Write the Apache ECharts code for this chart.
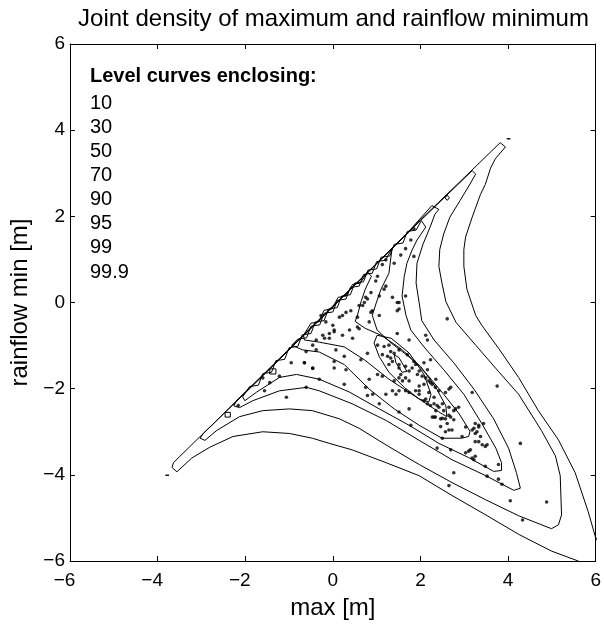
<!DOCTYPE html>
<html><head><meta charset="utf-8">
<script src="https://cdn.jsdelivr.net/npm/echarts@6/dist/echarts.min.js"></script>
<style>html,body{margin:0;padding:0;background:#fff}#chart{width:604px;height:625px}</style>
</head><body><div id="chart"></div>
<script>
const titleText = 'Joint density of maximum and rainflow minimum';
const xName = 'max [m]';
const yName = 'rainflow min [m]';
const legendTitle = 'Level curves enclosing:';
const levels = ['10', '30', '50', '70', '90', '95', '99', '99.9'];

// level curves, [max, min] pairs
const c10 = [[1.40,-1.21],[1.51,-1.28],[1.69,-1.60],[1.58,-1.62],[1.44,-1.40],[1.40,-1.21]];
const c30 = [[1.01,-0.76],[1.33,-0.83],[1.74,-1.17],[2.08,-1.67],[2.24,-2.13],[2.19,-2.31],[1.97,-2.24],[1.63,-1.97],[1.28,-1.62],[1.06,-1.26],[0.94,-0.94],[1.01,-0.76]];
const c50 = [[-0.67,-0.76],[-0.65,-0.87],[-0.31,-0.92],[0.26,-1.03],[0.72,-1.33],[1.28,-1.78],[1.97,-2.24],[2.42,-2.54],[2.60,-2.65],[2.58,-2.40],[2.35,-1.97],[2.01,-1.49],[1.56,-1.08],[1.10,-0.76],[0.74,-0.60],[0.51,-0.44],[0.56,-0.30],[0.65,0.04],[0.74,0.31],[0.88,0.61],[0.80,0.70],[0.62,0.45],[0.45,0.42],[0.30,0.15],[0.12,0.12],[-0.02,-0.15],[-0.20,-0.18],[-0.32,-0.45],[-0.50,-0.48],[-0.67,-0.76]];
const c70 = [[1.35,1.25],[1.28,0.68],[1.10,0.31],[0.99,-0.01],[0.90,-0.30],[1.01,-0.64],[1.33,-0.94],[1.74,-1.26],[2.15,-1.67],[2.53,-2.13],[2.88,-2.58],[3.13,-2.99],[3.10,-3.11],[2.94,-3.15],[2.49,-3.15],[1.97,-2.85],[1.40,-2.47],[0.83,-2.01],[0.26,-1.44],[-0.31,-1.15],[-0.69,-1.10],[-0.94,-0.99],[-0.80,-0.85],[-0.60,-0.82],[-0.50,-0.55],[-0.30,-0.52],[-0.20,-0.25],[0.00,-0.22],[0.10,0.05],[0.30,0.08],[0.40,0.35],[0.60,0.38],[0.70,0.65],[0.90,0.68],[1.00,0.95],[1.20,0.98],[1.35,1.25]];
const c90 = [[2.02,1.90],[2.12,1.75],[1.92,1.45],[1.81,1.22],[1.69,0.91],[1.63,0.61],[1.58,0.15],[1.67,-0.30],[1.78,-0.64],[2.08,-1.03],[2.53,-1.56],[2.99,-2.13],[3.40,-2.81],[3.72,-3.38],[3.85,-3.72],[3.85,-3.90],[3.67,-3.92],[3.10,-3.60],[2.42,-3.27],[1.74,-2.85],[1.06,-2.47],[0.38,-2.08],[-0.31,-1.78],[-0.83,-1.67],[-1.22,-1.74],[-1.74,-2.08],[-2.01,-2.28],[-2.06,-2.19],[-1.90,-1.95],[-1.70,-1.92],[-1.60,-1.65],[-1.40,-1.62],[-1.30,-1.35],[-1.10,-1.32],[-1.00,-1.05],[-0.80,-1.02],[-0.70,-0.75],[-0.50,-0.72],[-0.40,-0.45],[-0.20,-0.42],[-0.10,-0.15],[0.10,-0.12],[0.20,0.15],[0.40,0.18],[0.50,0.45],[0.70,0.48],[0.80,0.75],[1.00,0.78],[1.10,1.05],[1.30,1.08],[1.40,1.35],[1.60,1.38],[1.70,1.65],[1.90,1.68],[2.02,1.90]];
const c95 = [[2.26,2.25],[2.42,2.16],[2.33,2.05],[2.22,1.75],[2.06,1.36],[1.92,0.91],[1.90,0.45],[1.97,-0.01],[2.03,-0.42],[2.31,-0.87],[2.76,-1.40],[3.22,-2.01],[3.67,-2.70],[4.01,-3.38],[4.19,-3.95],[4.28,-4.31],[4.13,-4.36],[3.49,-4.02],[2.72,-3.65],[1.97,-3.20],[1.22,-2.74],[0.44,-2.35],[-0.31,-2.05],[-0.60,-1.97],[-1.22,-2.05],[-1.83,-2.28],[-2.13,-2.44],[-2.26,-2.40],[-2.20,-2.28],[-1.50,-1.60],[-0.80,-0.90],[0.00,-0.10],[0.80,0.70],[1.60,1.50],[2.26,2.25]];
const c99 = [[3.18,3.06],[3.26,2.98],[3.13,2.75],[2.90,2.36],[2.67,1.98],[2.53,1.59],[2.44,1.23],[2.42,0.84],[2.49,0.45],[2.58,0.02],[2.81,-0.46],[3.26,-0.99],[3.78,-1.60],[4.24,-2.13],[4.76,-2.97],[5.08,-3.56],[5.19,-4.02],[5.22,-4.93],[5.15,-5.16],[4.99,-5.25],[4.24,-4.95],[3.49,-4.58],[2.72,-4.18],[1.97,-3.76],[1.22,-3.31],[0.60,-2.92],[0.15,-2.70],[-0.47,-2.51],[-0.99,-2.47],[-1.60,-2.51],[-2.13,-2.65],[-2.65,-2.97],[-2.92,-3.20],[-3.03,-3.15],[-2.95,-3.03],[-2.00,-2.10],[-1.00,-1.10],[0.00,-0.10],[1.00,0.90],[2.00,1.90],[3.18,3.06]];
const c999 = [[6.20,-5.85],[5.99,-5.43],[5.83,-4.86],[5.53,-3.95],[5.15,-3.19],[4.69,-2.51],[4.24,-1.74],[3.78,-1.06],[3.40,-0.53],[3.26,-0.30],[3.06,0.31],[2.99,0.84],[2.99,1.23],[3.03,1.52],[3.18,1.98],[3.37,2.51],[3.48,2.74],[3.60,3.12],[3.71,3.34],[3.94,3.61],[3.82,3.71],[3.00,2.90],[2.00,1.92],[1.00,0.91],[0.00,-0.08],[-1.00,-1.08],[-2.00,-2.08],[-2.73,-2.82],[-3.11,-3.19],[-3.49,-3.57],[-3.64,-3.72],[-3.67,-3.83],[-3.56,-3.93],[-3.22,-3.61],[-2.81,-3.36],[-2.28,-3.11],[-1.60,-3.00],[-0.99,-3.04],[-0.47,-3.15],[-0.08,-3.27],[0.44,-3.42],[1.22,-3.72],[1.97,-4.02],[2.72,-4.48],[3.49,-4.93],[4.24,-5.38],[4.99,-5.77],[5.60,-6.00],[5.90,-6.20],[6.20,-5.85]];
// small closed pieces of the outer levels
const islandA = [[-3.82,-4.01],[-3.78,-3.97],[-3.74,-4.01],[-3.78,-4.05],[-3.82,-4.01]];
const islandB = [[3.97,3.80],[4.01,3.84],[4.05,3.80],[4.01,3.76],[3.97,3.80]];
const islandC = [[2.56,2.43],[2.61,2.49],[2.66,2.43],[2.61,2.37],[2.56,2.43]];
const islandD = [[-1.44,-1.54],[-1.30,-1.54],[-1.30,-1.66],[-1.44,-1.66],[-1.44,-1.54]];
const islandE = [[-2.46,-2.55],[-2.34,-2.55],[-2.34,-2.66],[-2.46,-2.66],[-2.46,-2.55]];

// sampled (max, min) pairs
const samples = [
[0.79,0.08],[1.06,0.15],[1.51,0.00],[1.47,-0.19],[0.87,-0.23],[1.06,-0.30],[0.56,-0.34],[0.83,-0.45],[0.60,-0.61],[0.38,-0.64],
[0.03,-0.68],[0.22,-0.76],[0.45,-0.83],[0.56,-0.57],[-0.08,-0.83],[-0.19,-0.83],[-0.61,-1.14],[-0.38,-1.10],[-0.65,-1.40],[-0.46,-1.52],
[0.03,-1.37],[0.03,-1.52],[0.26,-1.25],[0.64,-1.33],[0.79,-1.18],[1.02,-0.99],[1.17,-1.02],[1.28,-0.99],[1.40,-1.18],[1.25,-1.25],
[1.32,-1.29],[1.51,-1.10],[1.74,-0.87],[1.47,-0.72],[2.12,-0.76],[2.16,-0.87],[2.61,-0.38],[1.51,-1.44],[1.66,-1.48],[1.81,-1.52],
[1.85,-1.37],[1.93,-1.67],[2.04,-1.71],[2.16,-1.56],[2.23,-1.33],[2.35,-1.78],[2.23,-1.86],[2.08,-1.90],[1.97,-1.94],[1.74,-1.82],
[1.59,-1.82],[1.51,-1.75],[1.40,-1.82],[1.13,-1.71],[1.02,-1.67],[0.83,-1.78],[0.75,-1.97],[0.79,-2.16],[0.91,-2.13],[1.21,-2.13],
[1.36,-2.05],[1.44,-2.13],[1.66,-2.05],[1.74,-2.09],[1.89,-2.05],[1.97,-2.13],[2.08,-2.28],[2.16,-2.35],[2.23,-2.39],[2.31,-2.35],
[2.38,-2.39],[2.42,-2.43],[2.50,-2.35],[2.35,-2.51],[2.27,-2.66],[2.46,-2.70],[2.57,-2.70],[2.61,-2.81],[2.57,-3.00],[2.65,-2.96],
[2.76,-2.51],[2.80,-2.47],[2.57,-2.09],[2.65,-2.01],[2.69,-1.97],[3.18,-2.09],[3.75,-1.94],[3.03,-2.89],[3.18,-2.96],[3.25,-2.81],
[3.33,-2.89],[3.44,-2.81],[3.33,-3.23],[3.41,-3.30],[3.18,-3.61],[3.22,-3.65],[3.48,-3.80],[3.03,-3.49],[2.76,-3.95],[2.38,-3.38],
[2.69,-3.42],[3.78,-3.76],[3.86,-4.22],[3.52,-4.03],[4.28,-3.27],[1.74,-2.47],[1.51,-2.54],[1.06,-2.35],[0.26,-1.90],[-0.61,-1.97],
[0.07,-1.10],[-0.31,-1.78],[0.30,-1.56],
[1.85,1.71],[1.78,1.45],[1.66,1.25],[1.85,1.07],[1.55,1.10],[1.40,0.91],[1.21,0.99],[1.13,0.88],[1.02,0.61],[1.21,0.38],
[1.17,0.31],[0.98,0.50],[0.87,0.23],[0.75,0.12],[0.72,0.00],[0.60,-0.07],[0.90,-0.19],[1.36,0.12],[1.51,-0.15],[1.66,0.15],[1.47,0.00],
[-0.27,-0.30],[-0.16,-0.45],[0.00,-0.53],[0.03,-0.64],[-0.08,-0.72],[-0.23,-0.76],[-0.38,-0.87],[-0.46,-0.99],[-0.65,-1.40],[-0.46,-1.53],
[-0.95,-1.40],[-1.22,-1.71],[-1.06,-2.20],[-1.56,-2.05],[-1.44,-1.86],[-1.60,-1.75],[-2.16,-2.39],
[1.78,-2.85],[2.31,-2.66],[2.50,-2.69],[2.65,-2.62],[2.76,-2.72],[2.46,-2.88],[2.50,-3.15],[3.22,-2.92],[3.33,-2.85],[3.29,-3.00],
[3.25,-3.23],[3.37,-3.11],[3.52,-3.30],[3.10,-3.45],[3.78,-4.10],[2.65,-4.25],[4.05,-4.60],[4.88,-4.63],[4.33,-5.05],
[0.68,-0.07],[0.41,-0.19],[0.30,-0.23],[0.22,-0.30],[0.15,-0.34],[1.13,-1.21],[1.32,-1.14],[1.28,-1.44],[1.36,-1.37],[1.51,-1.52],
[1.55,-1.67],[1.66,-1.75],[1.74,-1.59],[1.70,-1.21],[1.89,-1.44],[1.97,-1.59],[2.12,-1.75],[2.19,-1.82],[2.27,-1.90],[2.34,-1.97],
[2.42,-2.05],[2.19,-2.09],[2.31,-2.20],[2.53,-2.51],[2.65,-2.43],[2.34,-2.66],[2.69,-2.66],[2.87,-2.43],[2.72,-2.96],[2.95,-3.11],
[3.25,-3.04],[3.48,-3.34],[3.25,-3.57],[3.14,-3.42],[2.08,-1.40],[1.51,-2.05],[2.12,-2.24],[1.97,-2.05]
];

const fontFam = 'Liberation Sans, Arial, Helvetica, sans-serif';
const minusText = v => String(v).replace('-', '\u2212');
// x labels: digits stay centred on the tick, the minus sign hangs to the left
const xLabel = v => v < 0 ? '\u2212' + (-v) + '{pad|}' : String(v);

function lineSeries(pts) {
  return {
    type: 'line', data: pts, symbol: 'none', smooth: false, silent: true,
    lineStyle: { color: '#000', width: 1 }, clip: true, z: 2
  };
}

const chart = echarts.init(document.getElementById('chart'), null, { renderer: 'canvas' });
const curves = [c10, c30, c50, c70, c90, c95, c99, c999, islandA, islandB, islandC, islandD, islandE];

const textGraphics = [{
  type: 'text', x: 333.5, y: 19,
  style: { text: titleText, font: '24px ' + fontFam, fill: '#000', align: 'center', verticalAlign: 'middle' }
}, {
  type: 'text', x: 90, y: 76.7,
  style: { text: legendTitle, font: 'bold 20px ' + fontFam, fill: '#000', align: 'left', verticalAlign: 'middle' }
}].concat(levels.map((t, i) => ({
  type: 'text', x: 90, y: 103.3 + i * 24.1,
  style: { text: t, font: '20px ' + fontFam, fill: '#000', align: 'left', verticalAlign: 'middle' }
})));

const axisCommon = {
  type: 'value', min: -6, max: 6, interval: 2,
  axisLine: { onZero: false, lineStyle: { color: '#000', width: 1 } },
  axisTick: { inside: true, length: 5, lineStyle: { color: '#000' } },
  splitLine: { show: false }
};

chart.setOption({
  animation: false,
  backgroundColor: '#fff',
  grid: { left: 70, right: 7, top: 44, bottom: 55 },
  xAxis: [Object.assign({}, axisCommon, {
    name: xName, nameLocation: 'middle', nameGap: 35,
    nameTextStyle: { fontFamily: fontFam, fontSize: 24, color: '#000' },
    axisLabel: {
      formatter: xLabel, fontFamily: fontFam, fontSize: 19, color: '#000', margin: 10,
      rich: { pad: { width: 11, fontSize: 19 } }
    }
  }), Object.assign({}, axisCommon, { position: 'top', axisLabel: { show: false } })],
  yAxis: [Object.assign({}, axisCommon, {
    name: yName, nameLocation: 'middle', nameGap: 34, nameRotate: 90,
    nameTextStyle: { fontFamily: fontFam, fontSize: 24, color: '#000' },
    axisLabel: { formatter: minusText, fontFamily: fontFam, fontSize: 19, color: '#000', margin: 5 }
  }), Object.assign({}, axisCommon, { position: 'right', axisLabel: { show: false } })],
  graphic: textGraphics,
  series: curves.map(lineSeries).concat([{
    type: 'scatter', data: samples, symbol: 'circle', symbolSize: 3.6,
    itemStyle: { color: '#000' }, silent: true, z: 3
  }])
});
</script>
</body></html>
